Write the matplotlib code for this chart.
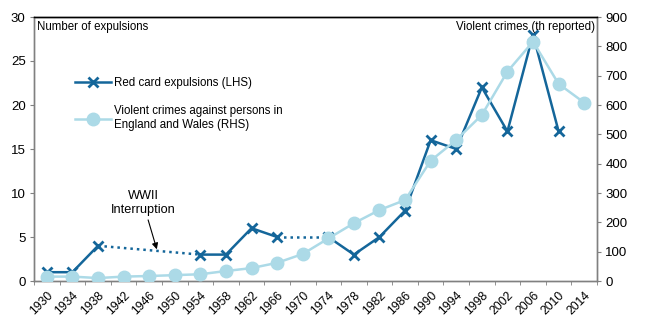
import numpy as np
import matplotlib
matplotlib.use("Agg")
import matplotlib.pyplot as plt

plt.rcParams['font.family'] = ['Liberation Sans', 'DejaVu Sans']

years = ["1930", "1934", "1938", "1942", "1946", "1950", "1954", "1958", "1962", "1966", "1970",
         "1974", "1978", "1982", "1986", "1990", "1994", "1998", "2002", "2006", "2010", "2014"]
red_cards = [1, 1, 4, np.nan, np.nan, np.nan, 3, 3, 6, 5, np.nan,
             5, 3, 5, 8, 16, 15, 22, 17, 28, 17, np.nan]
violent_crimes = [15, 15, 10, 15, 17, 20, 23, 34, 44, 62, 92,
                  145, 197, 242, 276, 410, 481, 566, 714, 816, 672, 608]

dark = "#14669a"
light = "#acdae7"

fig = plt.figure(figsize=(6.45, 3.28), dpi=100)
ax = fig.add_axes([34/645, 1-281/328, 563/645, 264/328])
ax2 = ax.twinx()

x = np.arange(len(years))
rc = np.array(red_cards, dtype=float)

# dotted bridges across gaps in the red card series
valid = np.where(~np.isnan(rc))[0]
for a, b in zip(valid[:-1], valid[1:]):
    if b - a > 1:
        ax.plot([x[a], x[b]], [rc[a], rc[b]], color=dark, lw=1.8, ls=(0, (1, 1.6)), zorder=2)

l1, = ax.plot(x, rc, color=dark, lw=1.8, marker='x', ms=7, mew=2, zorder=3,
              label="Red card expulsions (LHS)")
l2, = ax2.plot(x, violent_crimes, color=light, lw=1.8, marker='o', ms=9, zorder=4,
               label="Violent crimes against persons in\nEngland and Wales (RHS)")

# light series drawn above the dark one
ax2.set_zorder(ax.get_zorder() + 1)
ax2.patch.set_visible(False)

ax.set_xlim(-0.5, len(years) - 0.5)
ax.set_ylim(0, 30)
ax2.set_ylim(0, 900)
ax.set_yticks(np.arange(0, 31, 5))
ax2.set_yticks(np.arange(0, 901, 100))

ax.set_xticks(x)
ax.set_xticklabels(years, rotation=45, ha='right', rotation_mode='anchor', fontsize=8.8)
ax.set_xticks(np.arange(-0.5, len(years)), minor=True)
ax.tick_params(axis='x', which='major', length=0, pad=6)
ax.tick_params(axis='x', which='minor', length=3, color='#808080', direction='out')
ax.tick_params(axis='y', labelsize=9.5, length=3, color='#808080', pad=3)
ax2.tick_params(axis='y', labelsize=9.5, length=3, color='#808080', pad=3)

for axis in (ax, ax2):
    for s in ['left', 'right', 'bottom']:
        axis.spines[s].set_color('#808080')
        axis.spines[s].set_linewidth(1.0)
    axis.spines['top'].set_color('black')
    axis.spines['top'].set_linewidth(1.0)

ax2.text(0.006, 0.985, "Number of expulsions", transform=ax.transAxes, ha='left', va='top', fontsize=8.3)
ax2.text(0.996, 0.985, "Violent crimes (th reported)", transform=ax.transAxes, ha='right', va='top', fontsize=8.3)

ax2.annotate("WWII\nInterruption", xy=(4.3, 3.6), xytext=(3.76, 8.9), xycoords=ax.transData,
             textcoords=ax.transData,
             ha='center', va='center', fontsize=9.2, linespacing=1.25,
             arrowprops=dict(arrowstyle='-|>', color='black', lw=0.8, mutation_scale=9, shrinkA=1, shrinkB=0),
             zorder=6)

leg = ax2.legend(handles=[l1, l2], loc='upper left', bbox_to_anchor=(0.072, 0.772),
                 frameon=False, fontsize=8.3, handlelength=3.2, handletextpad=0.2,
                 labelspacing=1.4, borderaxespad=0, borderpad=0)

fig.savefig("out.png", dpi=100)
